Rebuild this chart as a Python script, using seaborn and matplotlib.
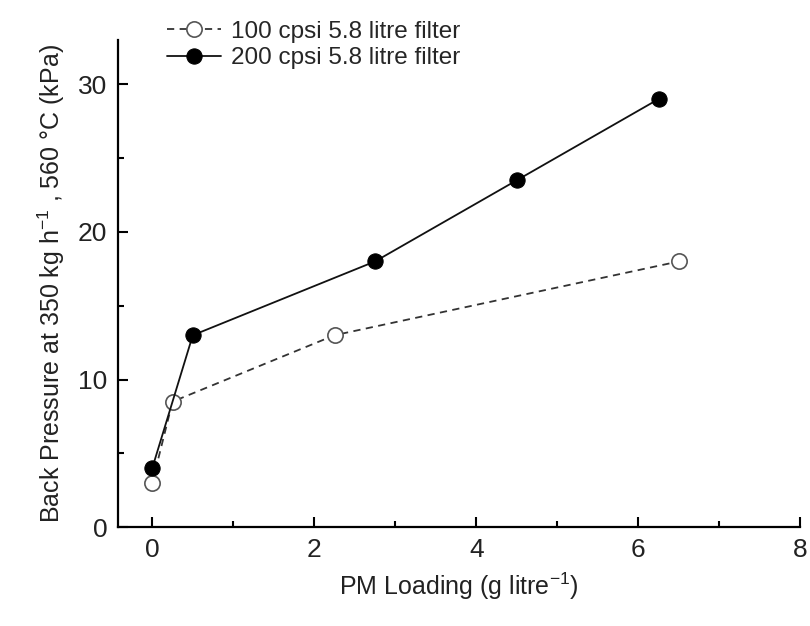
import matplotlib
matplotlib.use("Agg")
import matplotlib.pyplot as plt
import seaborn as sns
import pandas as pd
from matplotlib.ticker import MultipleLocator

sns.set_theme(style="ticks")
plt.rcParams['font.family'] = ['Liberation Sans', 'DejaVu Sans']
plt.rcParams['mathtext.fontset'] = 'custom'
plt.rcParams['mathtext.rm'] = 'Liberation Sans'

x100 = [0.0, 0.25, 2.25, 6.5]
y100 = [3.0, 8.5, 13.0, 18.0]
x200 = [0.0, 0.5, 2.75, 4.5, 6.25]
y200 = [4.0, 13.0, 18.0, 23.5, 29.0]
label100 = "100 cpsi 5.8 litre filter"
label200 = "200 cpsi 5.8 litre filter"

df100 = pd.DataFrame({"x": x100, "y": y100})
df200 = pd.DataFrame({"x": x200, "y": y200})

fig = plt.figure(figsize=(8.1, 6.26), dpi=100)
ax = fig.add_axes([0.146, 0.158, 0.842, 0.778])

sns.lineplot(data=df100, x="x", y="y", ax=ax, color="#333333", linestyle=(0, (4, 3)),
             linewidth=1.3, marker="o", markersize=11, markerfacecolor="white",
             markeredgecolor="#555555", markeredgewidth=1.2, label=label100, zorder=2)
sns.lineplot(data=df200, x="x", y="y", ax=ax, color="#111111", linestyle="-",
             linewidth=1.3, marker="o", markersize=11, markerfacecolor="black",
             markeredgecolor="black", label=label200, zorder=3)

ax.set_xlim(-0.42, 8)
ax.set_ylim(0, 33)
ax.xaxis.set_major_locator(MultipleLocator(2))
ax.xaxis.set_minor_locator(MultipleLocator(1))
ax.yaxis.set_major_locator(MultipleLocator(10))
ax.yaxis.set_minor_locator(MultipleLocator(5))
ax.tick_params(which="major", direction="in", length=7, width=1.5, labelsize=19, pad=8, color="black", labelcolor="#222222")
ax.tick_params(which="minor", direction="in", length=4, width=1.5, color="black")
for s in ["top", "right"]:
    ax.spines[s].set_visible(False)
for s in ["left", "bottom"]:
    ax.spines[s].set_linewidth(1.6)
    ax.spines[s].set_color("black")

ax.set_xlabel("PM Loading (g litre$^{-1}$)", fontsize=18, color="#222222", labelpad=6)
ax.set_ylabel("Back Pressure at 350 kg h$^{-1}$ , 560 °C (kPa)", fontsize=18, color="#222222", labelpad=8)

leg = ax.legend(loc="upper left", bbox_to_anchor=(0.04, 1.085), frameon=False, fontsize=17.5,
                handlelength=2.2, handletextpad=0.4, labelspacing=0.2)

fig.savefig("out.png", dpi=100)
